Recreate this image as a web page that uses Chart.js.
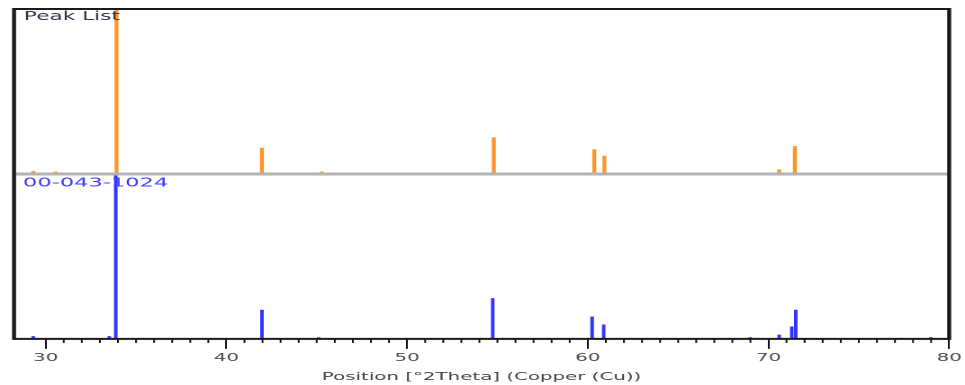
<!DOCTYPE html>
<html>
<head>
<meta charset="utf-8">
<script src="https://cdn.jsdelivr.net/npm/chart.js@4/dist/chart.umd.min.js"></script>
<style>
  html, body { margin: 0; padding: 0; background: #fff; overflow: hidden; }
  /* the source picture is a horizontally stretched screenshot, so draw narrow and stretch */
  #wrap { width: 536px; height: 385px; transform: scaleX(1.8004); transform-origin: 0 0; }
</style>
</head>
<body>
<div id="wrap"><canvas id="xrd" width="536" height="385"></canvas></div>
<script>
// Peak list (measured pattern) - orange
const peakPos = [29.31, 30.55, 33.92, 41.97, 45.27, 54.8, 60.36, 60.92, 70.59, 71.46];
const peakInt = [1.5, 1.2, 100, 15.7, 1.2, 22, 14.7, 10.8, 2.6, 16.7];

// Reference card 00-043-1024 - blue
const refPos = [29.31, 33.52, 33.88, 41.97, 45.11, 54.74, 60.24, 60.88, 68.99, 70.59, 71.29, 71.51, 78.98];
const refInt = [1.5, 1.5, 100, 17.5, 0.8, 24.5, 13.4, 8.5, 0.8, 2.4, 7.3, 17.5, 0.8];

const xMin = 28.25;
const xMax = 80;
const majorStep = 10;

const panelLabels = ['Peak List', '00-043-1024'];
const axisTitle = 'Position [°2Theta] (Copper (Cu))';

const toPoints = (pos, val) => pos.map((p, i) => ({ x: p, y: val[i] }));

// frame, divider, minor ticks and panel captions
const framePlugin = {
    id: 'frame',
    afterDraw(chart) {
        const ctx = chart.ctx;
        const area = chart.chartArea;
        const top = chart.scales.y2;
        const xs = chart.scales.x;
        ctx.save();

        // minor ticks
        ctx.strokeStyle = '#111';
        ctx.lineWidth = 1;
        xs.ticks.forEach(t => {
            if (Number.isInteger(t.value) && t.value % majorStep !== 0) {
                const px = xs.getPixelForValue(t.value);
                ctx.beginPath();
                ctx.moveTo(px, area.bottom);
                ctx.lineTo(px, area.bottom + 4);
                ctx.stroke();
            }
        });

        // divider between the two panels
        ctx.strokeStyle = '#b3b3b3';
        ctx.lineWidth = 3;
        ctx.beginPath();
        ctx.moveTo(area.left, top.bottom);
        ctx.lineTo(area.right, top.bottom);
        ctx.stroke();

        // outer frame
        ctx.strokeStyle = '#1a1a1a';
        ctx.lineWidth = 2;
        ctx.beginPath();
        ctx.moveTo(area.left, area.top);
        ctx.lineTo(area.right, area.top);
        ctx.moveTo(area.left, area.bottom);
        ctx.lineTo(area.right, area.bottom);
        ctx.stroke();
        ctx.lineWidth = 2.2;
        ctx.beginPath();
        ctx.moveTo(area.left, area.top - 1);
        ctx.lineTo(area.left, area.bottom + 1);
        ctx.moveTo(area.right, area.top - 1);
        ctx.lineTo(area.right, area.bottom + 1);
        ctx.stroke();

        // captions
        ctx.textBaseline = 'alphabetic';
        ctx.font = '12px "DejaVu Sans"';
        ctx.fillStyle = '#3a2f45';
        ctx.fillText(panelLabels[0], area.left + 5.5, area.top + 11);
        ctx.font = '12.5px "DejaVu Sans"';
        ctx.fillStyle = '#3d3dff';
        ctx.fillText(panelLabels[1], area.left + 5, chart.scales.y.top + 12.5);
        ctx.restore();
    }
};

new Chart(document.getElementById('xrd'), {
    type: 'bar',
    data: {
        datasets: [
            {
                label: panelLabels[1],
                data: toPoints(refPos, refInt),
                yAxisID: 'y',
                backgroundColor: '#3333ff',
                barThickness: 1.3
            },
            {
                label: panelLabels[0],
                data: toPoints(peakPos, peakInt),
                yAxisID: 'y2',
                backgroundColor: '#ff9326',
                barThickness: 1.5
            }
        ]
    },
    options: {
        responsive: false,
        animation: false,
        devicePixelRatio: 2,
        grouped: false,
        layout: {
            padding: { left: 7.8, right: 8.8, top: 9, bottom: 0 }
        },
        plugins: {
            legend: { display: false },
            tooltip: { enabled: false }
        },
        scales: {
            x: {
                type: 'linear',
                offset: false,
                min: xMin,
                max: xMax,
                border: { display: false },
                afterFit: s => { s.paddingRight = 0; s.paddingLeft = 0; },
                grid: {
                    offset: false,
                    drawOnChartArea: false,
                    tickLength: 10,
                    tickWidth: 1,
                    tickColor: c => (c.tick && c.tick.value % majorStep === 0) ? '#111' : 'rgba(0,0,0,0)'
                },
                ticks: {
                    stepSize: 1,
                    autoSkip: false,
                    maxRotation: 0,
                    padding: 3.5,
                    color: '#4a4a4a',
                    font: { family: 'DejaVu Sans', size: 11, lineHeight: 1 },
                    callback: v => (v % majorStep === 0 ? v : '')
                },
                title: {
                    display: true,
                    text: axisTitle,
                    color: '#444',
                    font: { family: 'DejaVu Sans', size: 11, lineHeight: 1.2 },
                    padding: { top: 3.5, bottom: 1.4 }
                }
            },
            y: {
                display: false,
                min: 0,
                max: 100,
                stack: 'xrd',
                stackWeight: 1
            },
            y2: {
                display: false,
                min: 0,
                max: 100,
                stack: 'xrd',
                stackWeight: 1
            }
        }
    },
    plugins: [framePlugin]
});
</script>
</body>
</html>
